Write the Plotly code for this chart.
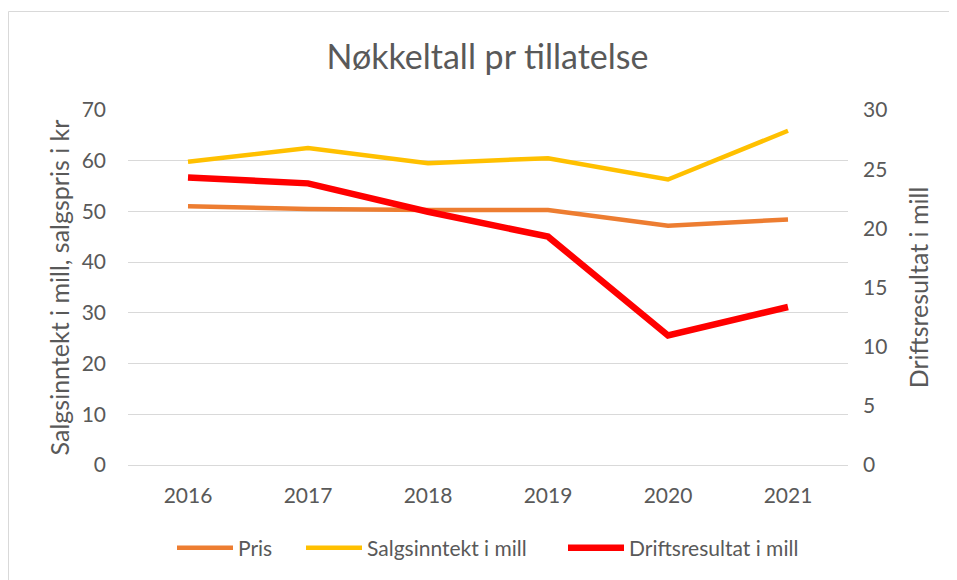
import plotly.graph_objects as go

years = ["2016", "2017", "2018", "2019", "2020", "2021"]
pris = [51.0, 50.5, 50.3, 50.3, 47.2, 48.4]
salgsinntekt = [59.8, 62.5, 59.5, 60.5, 56.3, 65.9]
driftsresultat = [24.3, 23.8, 21.4, 19.3, 10.95, 13.35]

left_ticks = [0, 10, 20, 30, 40, 50, 60, 70]
right_ticks = [0, 5, 10, 15, 20, 25, 30]

FONT = "Lato"
TXT = "#595959"
W, H = 949, 572          # page body has an 8px margin
L, R, T, B = 120, 109, 102, 115
PW, PH = W - L - R, H - T - B

def px(fx):
    return (fx - L) / PW

def py(fy):
    return (H - B - fy) / PH

fig = go.Figure()
fig.add_trace(go.Scatter(x=years, y=pris, name="Pris", mode="lines",
                         line=dict(color="#ED7D31", width=4.5), legend="legend"))
fig.add_trace(go.Scatter(x=years, y=salgsinntekt, name="Salgsinntekt i mill", mode="lines",
                         line=dict(color="#FFC000", width=4.5), legend="legend2"))
fig.add_trace(go.Scatter(x=years, y=driftsresultat, name="Driftsresultat i mill", mode="lines",
                         line=dict(color="#FF0000", width=6.5), yaxis="y2", legend="legend3"))

leg_common = dict(orientation="h", yanchor="middle", xanchor="left", y=py(540),
                  font=dict(size=21, color=TXT, family=FONT), itemwidth=56,
                  bgcolor="rgba(0,0,0,0)")

fig.update_layout(
    width=W, height=H,
    margin=dict(l=L, r=R, t=T, b=B, autoexpand=False),
    paper_bgcolor="white", plot_bgcolor="white",
    font=dict(family=FONT, color=TXT, size=21),
    title=dict(text="Nøkkeltall pr tillatelse", x=(479.5) / W, xanchor="center",
               y=1 - 49 / H, yanchor="middle", font=dict(size=34, color=TXT, family=FONT)),
    xaxis=dict(type="category", range=[-0.5, 5.5], showgrid=False, showline=True,
               linecolor="#d9d9d9", linewidth=1, ticks="",
               tickfont=dict(size=21, color=TXT), ticklabelstandoff=12),
    yaxis=dict(range=[0, 70], tickvals=left_ticks, showgrid=True, gridcolor="#d9d9d9",
               gridwidth=1, zeroline=False, tickfont=dict(size=21, color=TXT),
               ticklabelstandoff=21,
               title=dict(text="Salgsinntekt i mill, salgspris i kr",
                          font=dict(size=25, color=TXT), standoff=4)),
    yaxis2=dict(range=[0, 30], tickvals=right_ticks, overlaying="y", side="right",
                showgrid=False, zeroline=False, tickfont=dict(size=21, color=TXT),
                ticklabelstandoff=14,
                title=dict(text="Driftsresultat i mill", font=dict(size=25, color=TXT), standoff=24)),
    legend=dict(leg_common, x=px(164)),
    legend2=dict(leg_common, x=px(293)),
    legend3=dict(leg_common, x=px(555)),
    showlegend=True,
)

# outer chart border (right and bottom edges fall outside the visible window)
fig.add_shape(type="rect", xref="paper", yref="paper",
              x0=px(0.5), x1=px(965), y0=py(585), y1=py(3.5),
              line=dict(color="#d9d9d9", width=1), fillcolor="rgba(0,0,0,0)", layer="below")

fig.write_html("out.html")
